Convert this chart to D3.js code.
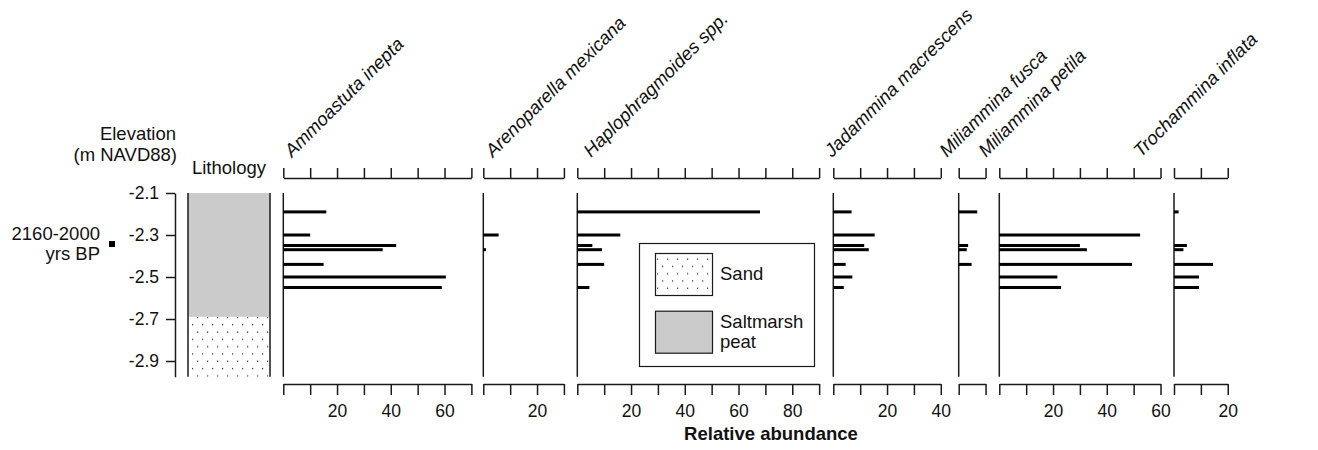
<!DOCTYPE html>
<html>
<head>
<meta charset="utf-8">
<script src="https://cdn.jsdelivr.net/npm/d3@7"></script>
<style>
  html, body { margin: 0; padding: 0; background: #fff; }
  svg text { font-family: "Liberation Sans", Arial, sans-serif; fill: #111; }
</style>
</head>
<body>
<div id="chart"></div>
<script>
(() => {
  // --- data ---
  const depths = [-2.19, -2.30, -2.35, -2.37, -2.44, -2.50, -2.55];

  const taxa = [
    "Ammoastuta inepta",
    "Arenoparella mexicana",
    "Haplophragmoides spp.",
    "Jadammina macrescens",
    "Miliammina fusca",
    "Miliammina petila",
    "Trochammina inflata"
  ];
  const axisMax = [70, 30, 90, 40, 10, 60, 20];

  const ammoastuta    = [16, 10, 42, 37, 15, 60.5, 59];
  const arenoparella  = [0, 5.7, 0, 1, 0, 0, 0];
  const haplophragm   = [68, 16, 5.6, 9.2, 10, 0, 4.5];
  const jadammina     = [6.8, 15.4, 11.5, 13.2, 4.6, 7.1, 3.9];
  const milFusca      = [6.9, 0, 3.5, 3.0, 4.8, 0, 0];
  const milPetila     = [0, 52.4, 30, 32.6, 49.4, 21.6, 23];
  const trochammina   = [1.7, 0, 4.8, 3.5, 14.5, 9.3, 9.3];
  const series = [ammoastuta, arenoparella, haplophragm, jadammina, milFusca, milPetila, trochammina];

  const elevTicks = [-2.1, -2.3, -2.5, -2.7, -2.9];
  const elevDomain = [-2.1, -2.975];

  const lithoTop  = [-2.1, -2.69];
  const lithoBase = [-2.69, -2.975];
  const lithoType = ["peat", "sand"];

  const ageLines = ["2160-2000", "yrs BP"];
  const ageElev = -2.343;

  const legendLabels = [["Sand"], ["Saltmarsh", "peat"]];
  const legendTypes = ["sand", "peat"];

  // --- layout ---
  const W = 1318, H = 450;
  const pxPerUnit = 2.687;
  const panelX = [283.3, 483.3, 577.3, 833.3, 958.7, 999.3, 1174];
  const labelX = [292, 493, 591, 832, 947, 986, 1141];
  const labelY = 158;
  const topAxisY = 178, botAxisY = 384;
  const plotTop = 193, plotBot = 376.75;
  const yAxisX = 175;
  const lithoX0 = 188, lithoX1 = 270;
  const fs = 18.5, tickFs = 17.5;
  const peatFill = "#cbcbcb";
  const ink = "#1a1a1a";

  const svg = d3.select("#chart").append("svg")
    .attr("width", W).attr("height", H)
    .attr("viewBox", [0, 0, W, H]);

  svg.append("rect").attr("width", W).attr("height", H).attr("fill", "#fff");

  const defs = svg.append("defs");
  const pat = defs.append("pattern")
    .attr("id", "sandDots")
    .attr("patternUnits", "userSpaceOnUse")
    .attr("width", 10).attr("height", 14.6);
  pat.append("rect").attr("width", 10).attr("height", 14.6).attr("fill", "#fff");
  pat.append("rect").attr("x", 2).attr("y", 3).attr("width", 1.2).attr("height", 1.2).attr("fill", "#222");
  pat.append("rect").attr("x", 7).attr("y", 10.3).attr("width", 1.2).attr("height", 1.2).attr("fill", "#222");

  const fillFor = (t) => t === "sand" ? "url(#sandDots)" : peatFill;

  const y = d3.scaleLinear().domain(elevDomain).range([plotTop, plotBot]);

  // elevation axis
  const gy = svg.append("g")
    .attr("transform", `translate(${yAxisX},0)`)
    .call(d3.axisLeft(y).tickValues(elevTicks).tickSize(9).tickSizeOuter(0).tickPadding(7)
      .tickFormat(d => d.toFixed(1)));
  gy.select(".domain").attr("stroke", ink).attr("stroke-width", 1.5);
  gy.selectAll(".tick line").attr("stroke", ink).attr("stroke-width", 1.5);
  gy.selectAll(".tick text").attr("font-size", tickFs).attr("font-family", null).attr("fill", "#111");

  svg.append("text").attr("x", 176).attr("y", 140).attr("text-anchor", "end")
    .attr("font-size", fs).text("Elevation");
  svg.append("text").attr("x", 177).attr("y", 161).attr("text-anchor", "end")
    .attr("font-size", fs).text("(m NAVD88)");

  // age marker
  svg.append("text")
    .attr("text-anchor", "end").attr("font-size", fs)
    .selectAll("tspan").data(ageLines).join("tspan")
    .attr("x", 100).attr("y", (d, i) => 240 + i * 19.5)
    .text(d => d);
  svg.append("rect")
    .attr("x", 109).attr("y", y(ageElev) - 3).attr("width", 6).attr("height", 6)
    .attr("fill", "#000");

  // lithology column
  svg.append("text").attr("x", (lithoX0 + lithoX1) / 2).attr("y", 174)
    .attr("text-anchor", "middle").attr("font-size", fs).text("Lithology");
  svg.append("g").selectAll("rect").data(lithoType).join("rect")
    .attr("x", lithoX0).attr("width", lithoX1 - lithoX0)
    .attr("y", (d, i) => y(lithoTop[i]))
    .attr("height", (d, i) => y(lithoBase[i]) - y(lithoTop[i]))
    .attr("fill", d => fillFor(d));
  [lithoX0, lithoX1].forEach(x => {
    svg.append("line").attr("x1", x).attr("x2", x)
      .attr("y1", y(elevDomain[0])).attr("y2", y(elevDomain[1]))
      .attr("stroke", ink).attr("stroke-width", 1.5);
  });

  // taxa panels
  taxa.forEach((name, i) => {
    const x = d3.scaleLinear().domain([0, axisMax[i]])
      .range([panelX[i], panelX[i] + axisMax[i] * pxPerUnit]);
    const ticks = d3.range(0, axisMax[i] + 1, 10);
    const g = svg.append("g");

    const top = g.append("g").attr("transform", `translate(0,${topAxisY})`)
      .call(d3.axisTop(x).tickValues(ticks).tickSize(10).tickSizeOuter(0).tickFormat(""));
    const bot = g.append("g").attr("transform", `translate(0,${botAxisY})`)
      .call(d3.axisBottom(x).tickValues(ticks).tickSize(11).tickSizeOuter(0).tickPadding(10)
        .tickFormat(d => (d > 0 && d % 20 === 0) ? d : ""));
    [top, bot].forEach(a => {
      a.select(".domain").attr("stroke", ink).attr("stroke-width", 1.5);
      a.selectAll(".tick line").attr("stroke", ink).attr("stroke-width", 1.5);
      a.selectAll(".tick text").attr("font-size", tickFs).attr("font-family", null).attr("fill", "#111");
    });

    g.append("line")
      .attr("x1", x(0)).attr("x2", x(0))
      .attr("y1", y(elevDomain[0])).attr("y2", y(elevDomain[1]))
      .attr("stroke", ink).attr("stroke-width", 1.5);

    g.append("g").selectAll("rect")
      .data(depths.map((d, j) => ({ d, v: series[i][j] })).filter(o => o.v > 0))
      .join("rect")
      .attr("x", x(0))
      .attr("y", o => y(o.d) - 1.5)
      .attr("width", o => x(o.v) - x(0))
      .attr("height", 3)
      .attr("fill", "#000");

    svg.append("text")
      .attr("transform", `translate(${labelX[i]},${labelY}) rotate(-45)`)
      .attr("font-size", fs).attr("font-style", "italic")
      .text(name);
  });

  // x title
  svg.append("text").attr("x", 771).attr("y", 439.5)
    .attr("text-anchor", "middle").attr("font-size", fs).attr("font-weight", "bold")
    .text("Relative abundance");

  // legend
  const lg = svg.append("g");
  lg.append("rect").attr("x", 639.5).attr("y", 243.5).attr("width", 175).attr("height", 123)
    .attr("fill", "#fff").attr("stroke", ink).attr("stroke-width", 1.2);
  legendTypes.forEach((t, i) => {
    const sy = 253.5 + i * 57.7;
    lg.append("rect").attr("x", 655.5).attr("y", sy).attr("width", 57).attr("height", 42)
      .attr("fill", fillFor(t)).attr("stroke", ink).attr("stroke-width", 1.2);
    const lines = legendLabels[i];
    lg.append("text").attr("font-size", fs)
      .selectAll("tspan").data(lines).join("tspan")
      .attr("x", 720)
      .attr("y", (d, k) => (lines.length === 1 ? sy + 26.5 : sy + 16.5 + k * 20.5))
      .text(d => d);
  });
})();
</script>
</body>
</html>
